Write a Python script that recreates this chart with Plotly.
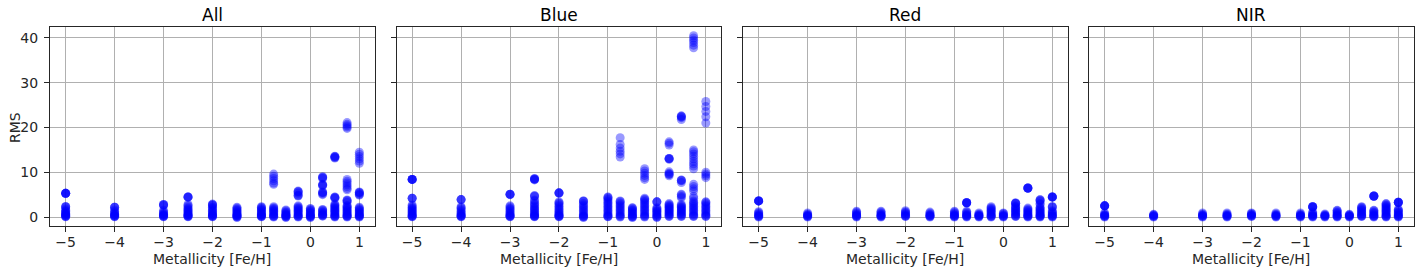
import plotly.graph_objects as go

PANEL_TITLES = ["All", "Blue", "Red", "NIR"]
X_TICKS = [-5, -4, -3, -2, -1, 0, 1]
X_TICK_TEXT = ["\u22125", "\u22124", "\u22123", "\u22122", "\u22121", "0", "1"]
Y_TICKS = [0, 10, 20, 30, 40]
Y_TICK_TEXT = ["0", "10", "20", "30", "40"]

ALL_RMS = {
    -5: [5.3, 5.3, 5.3, 5.3, 5.3, 2.3, 2.3, 2.3, 1.8, 1.5, 1.3, 1.1, 0.9, 0.8, 0.6, 0.5, 0.4, 0.3, 0.2, 0.1, 0.05],
    -4: [2.2, 2.2, 2.2, 1.6, 1.3, 1.0, 0.8, 0.6, 0.5, 0.4, 0.3, 0.2, 0.1, 0.05],
    -3: [2.8, 2.8, 2.7, 2.6, 1.5, 1.2, 1.0, 0.8, 0.6, 0.5, 0.4, 0.3, 0.2, 0.1, 0.05],
    -2.5: [4.5, 4.5, 4.5, 4.4, 2.8, 2.6, 2.3, 2.0, 1.8, 1.6, 1.4, 1.2, 1.0, 0.8, 0.6, 0.5, 0.4, 0.3, 0.2, 0.1, 0.05],
    -2: [2.9, 2.8, 2.7, 2.6, 2.2, 2.0, 1.8, 1.5, 1.3, 1.1, 0.9, 0.7, 0.5, 0.4, 0.3, 0.2, 0.1, 0.05],
    -1.5: [2.2, 2.0, 1.8, 1.6, 1.4, 1.2, 1.0, 0.8, 0.6, 0.5, 0.4, 0.3, 0.2, 0.1, 0.0, -0.1],
    -1: [2.3, 2.2, 2.0, 1.8, 1.6, 1.4, 1.2, 1.0, 0.8, 0.6, 0.5, 0.4, 0.3, 0.2, 0.1, 0.05],
    -0.75: [9.6, 9.1, 8.6, 8.1, 7.6, 7.3, 2.3, 2.1, 1.9, 1.7, 1.5, 1.3, 1.1, 0.9, 0.7, 0.5, 0.3, 0.2, 0.1, 0.0],
    -0.5: [1.6, 1.4, 1.2, 1.0, 0.8, 0.6, 0.5, 0.4, 0.3, 0.2, 0.1, 0.0, -0.1],
    -0.25: [5.8, 5.7, 5.6, 5.3, 4.9, 4.8, 4.7, 2.5, 2.3, 2.1, 1.9, 1.7, 1.5, 1.3, 1.1, 0.9, 0.7, 0.5, 0.3, 0.2, 0.1, 0.0],
    0: [1.9, 1.8, 1.6, 1.4, 1.2, 1.0, 0.8, 0.6, 0.4, 0.3, 0.2, 0.1, 0.0, -0.1],
    0.25: [9.0, 8.9, 8.8, 8.6, 7.3, 7.2, 7.1, 7.0, 5.6, 5.5, 5.4, 5.2, 5.0, 1.7, 1.6, 1.4, 1.2, 1.0, 0.8, 0.6, 0.5, 0.4, 0.3, 0.2],
    0.5: [13.6, 13.5, 13.4, 13.3, 13.2, 4.5, 4.4, 4.3, 4.2, 2.9, 2.7, 2.5, 2.3, 2.1, 1.9, 1.7, 1.5, 1.3, 1.1, 0.9, 0.7, 0.5, 0.3, 0.2, 0.1, 0.0],
    0.75: [21.1, 20.7, 20.4, 20.1, 19.8, 8.4, 8.0, 7.6, 7.2, 6.8, 6.4, 6.1, 3.8, 3.7, 3.6, 3.3, 2.6, 2.4, 2.2, 2.0, 1.8, 1.6, 1.4, 1.2, 1.0, 0.8, 0.6, 0.4, 0.3, 0.2, 0.1, 0.0],
    1: [14.5, 14.0, 13.5, 13.0, 12.5, 12.0, 5.6, 5.5, 5.4, 5.2, 5.0, 4.9, 2.2, 2.0, 1.8, 1.6, 1.4, 1.2, 1.0, 0.8, 0.6, 0.4, 0.3, 0.2, 0.1, 0.0],
}

BLUE_RMS = {
    -5: [8.4, 8.4, 8.4, 8.4, 8.4, 4.2, 4.2, 4.2, 2.7, 2.5, 2.2, 2.0, 1.8, 1.6, 1.4, 1.2, 1.0, 0.8, 0.6, 0.4, 0.3, 0.2, 0.1, 0.05],
    -4: [3.9, 3.9, 3.9, 2.3, 2.1, 1.9, 1.6, 1.3, 1.0, 0.8, 0.6, 0.4, 0.3, 0.2, 0.1, 0.05],
    -3: [5.1, 5.1, 5.1, 5.0, 2.5, 2.3, 2.0, 1.8, 1.6, 1.3, 1.0, 0.8, 0.6, 0.4, 0.3, 0.2, 0.1, 0.05],
    -2.5: [8.6, 8.5, 8.5, 8.4, 8.3, 4.8, 4.7, 4.6, 3.8, 3.6, 3.1, 2.9, 2.6, 2.3, 2.0, 1.8, 1.6, 1.3, 1.0, 0.8, 0.6, 0.4, 0.3, 0.2, 0.1, 0.05],
    -2: [5.4, 5.4, 5.4, 5.3, 3.4, 3.2, 3.0, 2.7, 2.4, 2.1, 1.8, 1.6, 1.3, 1.0, 0.8, 0.6, 0.4, 0.3, 0.2, 0.1, 0.05],
    -1.5: [3.6, 3.6, 3.5, 3.0, 2.7, 2.4, 2.1, 1.8, 1.5, 1.2, 0.9, 0.6, 0.4, 0.2, 0.1, 0.0, -0.1],
    -1: [4.5, 4.4, 4.2, 3.9, 3.6, 3.3, 3.0, 2.7, 2.4, 2.1, 1.8, 1.5, 1.2, 0.9, 0.6, 0.4, 0.2, 0.1, 0.05],
    -0.75: [17.7, 16.2, 15.4, 14.7, 14.1, 13.4, 3.6, 3.5, 3.2, 2.9, 2.6, 2.3, 2.0, 1.7, 1.4, 1.1, 0.8, 0.5, 0.3, 0.1, 0.0],
    -0.5: [2.1, 2.0, 1.8, 1.6, 1.4, 1.2, 1.0, 0.8, 0.6, 0.4, 0.2, 0.1, 0.0, -0.1],
    -0.25: [10.8, 10.3, 9.8, 9.3, 8.8, 8.4, 4.2, 4.0, 3.8, 3.5, 3.2, 2.9, 2.6, 2.3, 2.0, 1.7, 1.4, 1.1, 0.8, 0.5, 0.3, 0.1, 0.0],
    0: [3.4, 3.4, 3.4, 2.1, 1.9, 1.7, 1.5, 1.3, 1.1, 0.9, 0.7, 0.5, 0.3, 0.1, 0.0, -0.1],
    0.25: [16.8, 16.5, 16.1, 13.1, 13.1, 13.0, 12.9, 10.1, 9.8, 9.6, 9.5, 9.2, 3.0, 2.8, 2.6, 2.4, 2.2, 2.0, 1.8, 1.6, 1.4, 1.2, 1.0, 0.8, 0.6, 0.4, 0.2, 0.1],
    0.5: [22.6, 22.5, 22.4, 22.2, 21.8, 8.3, 8.2, 8.1, 7.7, 5.1, 4.9, 4.6, 4.3, 2.8, 2.6, 2.4, 2.2, 2.0, 1.8, 1.6, 1.4, 1.2, 1.0, 0.8, 0.6, 0.4, 0.2, 0.1],
    0.75: [40.5, 40.0, 39.5, 39.0, 38.4, 37.8, 15.0, 14.6, 14.1, 13.6, 13.0, 12.4, 11.9, 11.4, 10.8, 7.3, 6.8, 6.3, 5.8, 4.6, 4.2, 3.6, 3.3, 3.0, 2.7, 2.4, 2.1, 1.8, 1.5, 1.2, 0.9, 0.6, 0.4, 0.2, 0.1],
    1: [25.8, 24.7, 23.6, 22.4, 21.0, 10.0, 9.6, 9.2, 8.8, 3.4, 3.3, 3.0, 2.7, 2.4, 2.1, 1.8, 1.5, 1.2, 0.9, 0.6, 0.4, 0.2, 0.1],
}

RED_RMS = {
    -5: [3.6, 3.6, 3.6, 3.6, 3.6, 1.2, 1.0, 0.8, 0.6, 0.4, 0.3, 0.2, 0.1, 0.0],
    -4: [0.9, 0.7, 0.5, 0.4, 0.3, 0.2, 0.1, 0.0],
    -3: [1.3, 1.1, 0.9, 0.7, 0.5, 0.4, 0.3, 0.2, 0.1, 0.0],
    -2.5: [1.3, 1.1, 0.9, 0.7, 0.5, 0.4, 0.3, 0.2, 0.1, 0.0],
    -2: [1.4, 1.2, 1.0, 0.8, 0.6, 0.4, 0.3, 0.2, 0.1],
    -1.5: [1.1, 0.9, 0.7, 0.5, 0.4, 0.3, 0.2, 0.1, 0.0],
    -1: [1.3, 1.1, 0.9, 0.7, 0.5, 0.4, 0.3, 0.2, 0.1, 0.0],
    -0.75: [3.2, 3.2, 3.2, 3.2, 3.2, 1.3, 1.1, 0.9, 0.7, 0.5, 0.4, 0.3, 0.2, 0.1, 0.0],
    -0.5: [0.9, 0.7, 0.5, 0.4, 0.3, 0.2, 0.1, 0.0],
    -0.25: [2.3, 2.1, 1.9, 1.7, 1.5, 1.3, 1.1, 0.9, 0.7, 0.5, 0.3, 0.2, 0.1, 0.0],
    0: [0.9, 0.8, 0.6, 0.4, 0.3, 0.2, 0.1, 0.0],
    0.25: [3.2, 3.1, 3.1, 3.0, 2.5, 2.3, 2.1, 1.9, 1.7, 1.5, 1.3, 1.1, 0.9, 0.7, 0.5, 0.3, 0.2, 0.1],
    0.5: [6.5, 6.5, 6.5, 6.5, 6.4, 2.0, 1.8, 1.6, 1.4, 1.2, 1.0, 0.8, 0.6, 0.4, 0.3, 0.2, 0.1, 0.0],
    0.75: [3.9, 3.8, 3.7, 3.5, 3.0, 2.8, 2.2, 2.0, 1.8, 1.6, 1.4, 1.2, 1.0, 0.8, 0.6, 0.4, 0.3, 0.2, 0.1, 0.0],
    1: [4.5, 4.5, 4.5, 4.5, 4.4, 2.3, 2.3, 2.2, 1.4, 1.2, 1.0, 0.8, 0.6, 0.4, 0.3, 0.2, 0.1, 0.0],
}

NIR_RMS = {
    -5: [2.5, 2.5, 2.5, 2.5, 2.5, 0.9, 0.7, 0.5, 0.4, 0.3, 0.2, 0.1, 0.0],
    -4: [0.6, 0.5, 0.4, 0.3, 0.2, 0.1, 0.0],
    -3: [0.9, 0.7, 0.5, 0.4, 0.3, 0.2, 0.1, 0.0],
    -2.5: [0.9, 0.7, 0.5, 0.4, 0.3, 0.2, 0.1, 0.0],
    -2: [0.9, 0.8, 0.6, 0.5, 0.4, 0.3, 0.2, 0.1],
    -1.5: [0.9, 0.7, 0.5, 0.4, 0.3, 0.2, 0.1, 0.0],
    -1: [0.9, 0.7, 0.5, 0.4, 0.3, 0.2, 0.1, 0.0],
    -0.75: [2.3, 2.3, 2.3, 2.3, 2.2, 1.1, 0.9, 0.7, 0.5, 0.4, 0.3, 0.2, 0.1, 0.0],
    -0.5: [0.7, 0.5, 0.4, 0.3, 0.2, 0.1, 0.0],
    -0.25: [1.5, 1.4, 1.2, 1.0, 0.8, 0.6, 0.4, 0.3, 0.2, 0.1, 0.0],
    0: [0.6, 0.5, 0.4, 0.3, 0.2, 0.1, 0.0],
    0.25: [2.3, 2.2, 2.0, 1.8, 1.6, 1.4, 1.2, 1.0, 0.8, 0.6, 0.4, 0.3, 0.2, 0.1],
    0.5: [4.7, 4.7, 4.7, 4.7, 4.6, 1.5, 1.4, 1.2, 1.0, 0.8, 0.6, 0.4, 0.3, 0.2, 0.1, 0.0],
    0.75: [3.0, 2.9, 2.7, 2.5, 2.3, 2.1, 1.9, 1.7, 1.5, 1.3, 1.1, 0.9, 0.7, 0.5, 0.3, 0.2, 0.1, 0.0],
    1: [3.3, 3.3, 3.3, 3.3, 3.2, 1.7, 1.6, 1.4, 1.2, 1.0, 0.8, 0.6, 0.4, 0.3, 0.2, 0.1, 0.0],
}

PANELS = [ALL_RMS, BLUE_RMS, RED_RMS, NIR_RMS]

W, H = 1424, 272
LEFTS = [50, 396.5, 743, 1089]
PW = 324.5
TOP, BOTTOM = 27, 226
FONT = "DejaVu Sans"
TXT = "#262626"

fig = go.Figure()
layout = dict(
    width=W, height=H,
    margin=dict(l=0, r=0, t=0, b=0),
    paper_bgcolor="white", plot_bgcolor="white",
    showlegend=False,
    font=dict(family=FONT, size=14, color=TXT),
)
annotations = []
for i, (title, data) in enumerate(zip(PANEL_TITLES, PANELS)):
    xs, ys = [], []
    for xv, vals in data.items():
        for v in vals:
            xs.append(xv)
            ys.append(v)
    n = "" if i == 0 else str(i + 1)
    fig.add_trace(go.Scatter(
        x=xs, y=ys, mode="markers",
        marker=dict(color="rgb(0,0,255)", size=9, opacity=0.4, line=dict(width=0)),
        xaxis="x" + n, yaxis="y" + n, hoverinfo="skip",
    ))
    x0 = LEFTS[i] / W
    x1 = (LEFTS[i] + PW) / W
    layout["xaxis" + n] = dict(
        domain=[x0, x1], range=[-5.32, 1.31], anchor="y" + n,
        tickvals=X_TICKS, ticktext=X_TICK_TEXT,
        showgrid=True, gridcolor="#b0b0b0", gridwidth=0.8,
        showline=True, linecolor=TXT, linewidth=1, mirror=True,
        ticks="outside", ticklen=5, tickcolor=TXT, tickwidth=1,
        zeroline=False, tickfont=dict(size=14, family=FONT, color=TXT),
        ticklabelstandoff=-2,
    )
    layout["yaxis" + n] = dict(
        domain=[1 - BOTTOM / H, 1 - TOP / H], range=[-2.0, 42.45], anchor="x" + n,
        tickvals=Y_TICKS, ticktext=Y_TICK_TEXT if i == 0 else [""] * len(Y_TICKS),
        showticklabels=(i == 0),
        showgrid=True, gridcolor="#b0b0b0", gridwidth=0.8,
        showline=True, linecolor=TXT, linewidth=1, mirror=True,
        ticks="outside", ticklen=5, tickcolor=TXT, tickwidth=1,
        zeroline=False, tickfont=dict(size=14, family=FONT, color=TXT),
        ticklabelstandoff=3,
    )
    cx = (LEFTS[i] + PW / 2) / W
    annotations.append(dict(
        text=title, x=cx, y=1 - 15 / H, xref="paper", yref="paper",
        xanchor="center", yanchor="middle", showarrow=False,
        font=dict(size=17, family=FONT, color="black"),
    ))
    annotations.append(dict(
        text="Metallicity [Fe/H]", x=cx, y=1 - 258.5 / H, xref="paper", yref="paper",
        xanchor="center", yanchor="middle", showarrow=False,
        font=dict(size=14, family=FONT, color=TXT),
    ))

annotations.append(dict(
    text="RMS", x=15 / W, y=1 - 128 / H, xref="paper", yref="paper",
    xanchor="center", yanchor="middle", showarrow=False, textangle=-90,
    font=dict(size=14, family=FONT, color=TXT),
))
layout["annotations"] = annotations
fig.update_layout(**layout)
fig.write_html("out.html")
